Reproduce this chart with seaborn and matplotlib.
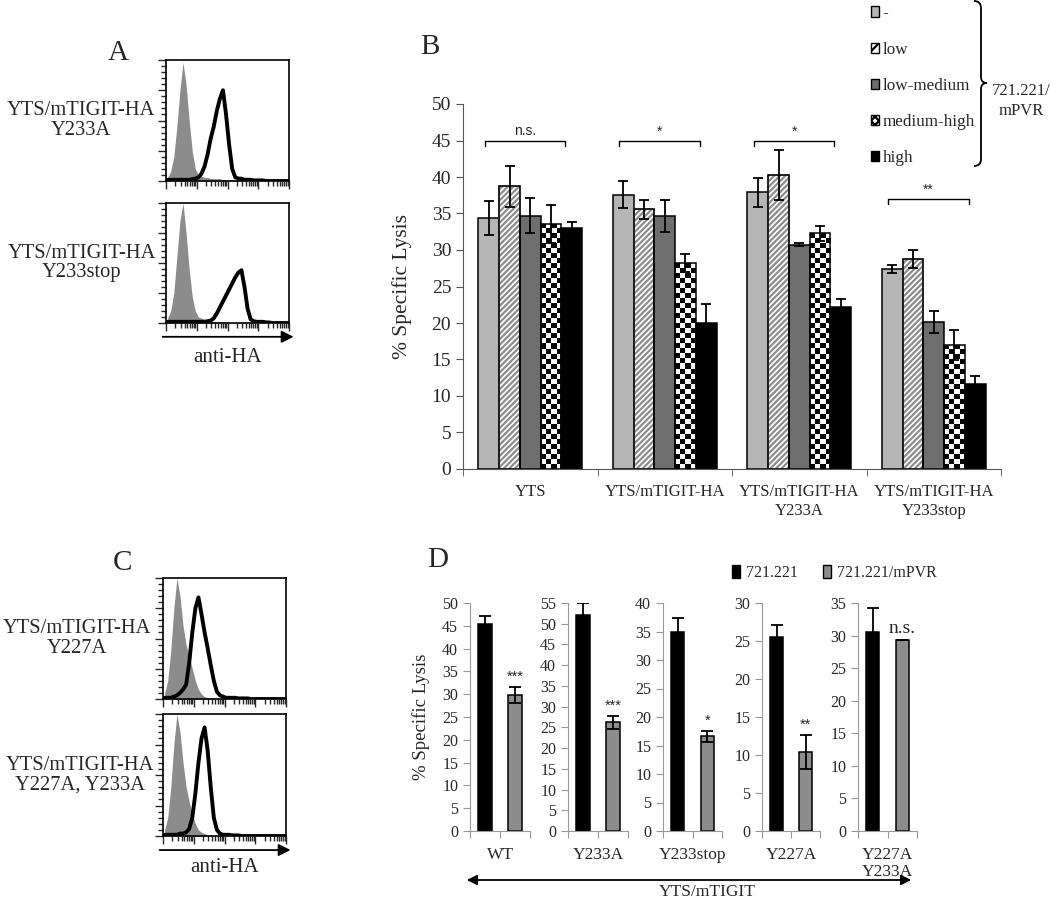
import numpy as np
import pandas as pd
import matplotlib.pyplot as plt
import seaborn as sns
from matplotlib.patches import Patch, Rectangle, PathPatch, FancyArrowPatch
from matplotlib.path import Path
from matplotlib.ticker import MultipleLocator, NullFormatter, LogLocator

# ---- panel A / C : anti-HA staining, counts per 0.1 log-decade bin (log10 0..4)
a1_gray = [3, 8, 20, 45, 75, 98, 80, 50, 25, 10, 5, 4, 3, 3, 2, 2, 2, 2, 1, 1, 1, 1, 0.5, 0.5]
a1_black = [1, 1, 1, 1, 1, 1, 1, 1, 1.5, 2, 3, 6, 12, 22, 35, 45, 58, 68, 75, 55, 30, 10, 3, 2,
            2, 1, 1, 1, 0.5, 0.5, 0.5, 0.5]
a2_gray = [4, 10, 25, 55, 85, 100, 75, 45, 22, 10, 5, 4, 3, 2, 2, 1, 1, 1, 1, 0.5]
a2_black = [1, 1, 1, 1, 1, 1, 1, 1, 1, 1, 1, 1, 1, 1.5, 2, 4, 8, 13, 18, 23, 28, 33, 38, 42,
            44, 30, 12, 3, 1.5, 1, 1, 1, 0.5, 0.5]
c1_gray = [5, 15, 40, 75, 100, 85, 60, 45, 35, 25, 15, 8, 4, 2, 1, 1, 0.5, 0.5]
c1_black = [1, 1, 1, 2, 3, 5, 8, 12, 30, 55, 75, 84, 70, 55, 42, 28, 15, 6, 3, 2, 1, 1, 1, 1,
            0.5, 0.5, 0.5, 0.5]
c2_gray = [5, 15, 40, 75, 100, 85, 60, 40, 28, 18, 10, 5, 3, 2, 1, 1, 0.5, 0.5]
c2_black = [1, 1, 1, 1, 1, 2, 2, 3, 6, 15, 35, 60, 80, 89, 70, 40, 15, 5, 2, 1, 1, 1, 0.5, 0.5, 0.5]
a_labels = ["YTS/mTIGIT-HA\nY233A", "YTS/mTIGIT-HA\nY233stop"]
c_labels = ["YTS/mTIGIT-HA\nY227A", "YTS/mTIGIT-HA\nY227A, Y233A"]

# ---- panel B
b_groups = ["YTS", "YTS/mTIGIT-HA", "YTS/mTIGIT-HA\nY233A", "YTS/mTIGIT-HA\nY233stop"]
b_levels = ["-", "low", "low-medium", "medium-high", "high"]
b_none = [34.4, 37.6, 37.9, 27.4]
b_low = [38.7, 35.6, 40.3, 28.8]
b_lowmed = [34.7, 34.6, 30.7, 20.1]
b_medhigh = [33.6, 28.2, 32.3, 17.0]
b_high = [33.0, 20.0, 22.2, 11.6]
b_none_err = [2.3, 1.9, 2.0, 0.5]
b_low_err = [2.8, 1.3, 3.4, 1.2]
b_lowmed_err = [2.4, 2.2, 0.2, 1.5]
b_medhigh_err = [2.6, 1.2, 1.0, 2.1]
b_high_err = [0.9, 2.6, 1.1, 1.2]
b_sig = ["n.s.", "*", "*", "**"]
b_sig_y = [45, 45, 45, 37]

# ---- panel D
d_groups = ["WT", "Y233A", "Y233stop", "Y227A", "Y227A\nY233A"]
d_targets = ["721.221", "721.221/mPVR"]
d_ctrl = [45.4, 52.0, 35.0, 25.5, 30.6]
d_ctrl_err = [1.7, 2.9, 2.3, 1.6, 3.6]
d_pvr = [29.8, 26.2, 16.6, 10.4, 29.3]
d_pvr_err = [1.7, 1.5, 0.9, 2.2, 0.0]
d_ymax = [50, 55, 40, 30, 35]
d_sig = ["***", "***", "*", "**", "n.s."]

W, H = 1050, 902
GRAY = "#8c8c8c"


def rect(x0, y0, x1, y1):
    return [x0 / W, 1 - y1 / H, (x1 - x0) / W, (y1 - y0) / H]


def fpos(x, y):
    return (x / W, 1 - y / H)


def pad40(v):
    return np.pad(np.asarray(v, float), (0, 40 - len(v)))


sns.set_style("ticks")
plt.rcParams["font.family"] = ["Liberation Serif", "DejaVu Serif"]
plt.rcParams["hatch.linewidth"] = 1.6

fig = plt.figure(figsize=(W / 100, H / 100), dpi=100)
centers = np.arange(40) * 0.1 + 0.05


def flow(box, gray, black, label, label_x):
    ax = fig.add_axes(rect(*box))
    sns.histplot(x=10 ** centers, weights=pad40(gray), bins=40, binrange=(0, 4), log_scale=True,
                 element="poly", fill=True, color=GRAY, alpha=1, linewidth=0, ax=ax)
    sns.histplot(x=10 ** centers, weights=pad40(black), bins=40, binrange=(0, 4), log_scale=True,
                 element="poly", fill=False, color="black", linewidth=2.8, ax=ax)
    ax.set_xlim(1, 1e4)
    ax.set_ylim(0, 100)
    ax.xaxis.set_major_locator(LogLocator(base=10, numticks=10))
    ax.xaxis.set_minor_locator(LogLocator(base=10, subs=np.arange(2, 10), numticks=10))
    ax.xaxis.set_minor_formatter(NullFormatter())
    ax.yaxis.set_major_locator(MultipleLocator(25))
    ax.yaxis.set_minor_locator(MultipleLocator(5))
    ax.tick_params(which="both", direction="out", labelleft=False, labelbottom=False, width=1)
    ax.tick_params(which="major", length=6)
    ax.tick_params(which="minor", length=3.5)
    for s in ax.spines.values():
        s.set_linewidth(1.2)
        s.set_color("black")
    ax.set_xlabel("")
    ax.set_ylabel(label, rotation=0, fontsize=14.8, ha="center", va="center", linespacing=1.05)
    ax.yaxis.set_label_coords((label_x - box[0]) / (box[2] - box[0]), 0.5)
    return ax


flow((166, 60, 289, 181), a1_gray, a1_black, a_labels[0], 81)
ax_a2 = flow((166, 203, 289, 323), a2_gray, a2_black, a_labels[1], 82)
flow((163, 578, 286, 699), c1_gray, c1_black, c_labels[0], 77)
ax_c2 = flow((163, 714, 286, 836), c2_gray, c2_black, c_labels[1], 80)

for ax, ytxt in [(ax_a2, -0.29), (ax_c2, -0.26)]:
    ax.annotate("", xy=(1.06, -0.115), xytext=(-0.05, -0.115), xycoords="axes fraction",
                arrowprops=dict(arrowstyle="-|>", color="black", lw=1.3, mutation_scale=18),
                annotation_clip=False)
    ax.text(0.5, ytxt, "anti-HA", transform=ax.transAxes, ha="center", va="center", fontsize=15)

# ---- panel B
series = [b_none, b_low, b_lowmed, b_medhigh, b_high]
errs = [b_none_err, b_low_err, b_lowmed_err, b_medhigh_err, b_high_err]
df_b = pd.DataFrame({
    "group": np.tile(b_groups, len(b_levels)),
    "level": np.repeat(b_levels, len(b_groups)),
    "lysis": np.concatenate(series),
})
b_colors = ["#b5b5b5", "white", "#6e6e6e", "white", "black"]

ax_b = fig.add_axes(rect(463, 104, 1001, 469))
sns.barplot(data=df_b, x="group", y="lysis", hue="level", order=b_groups, hue_order=b_levels,
            palette=b_colors, edgecolor="black", linewidth=1.1, width=0.77, errorbar=None,
            legend=False, ax=ax_b)
ax_b.set_xlim(-0.5, 3.5)
ax_b.set_ylim(0, 50)
sns.despine(ax=ax_b)
for cont, err, lvl in zip(ax_b.containers, errs, b_levels):
    xs = [p.get_x() + p.get_width() / 2 for p in cont]
    hs = [p.get_height() for p in cont]
    for p in cont:
        p.set_zorder(2)
        if lvl == "low":
            p.set_edgecolor("#8c8c8c")
            p.set_hatch("//////")
            ax_b.add_patch(Rectangle((p.get_x(), 0), p.get_width(), p.get_height(), fill=False,
                                     edgecolor="black", lw=1.1, zorder=2.2))
    ax_b.errorbar(xs, hs, yerr=err, fmt="none", ecolor="black", elinewidth=1.3,
                  capsize=3.5, capthick=1.3, zorder=4)

# checkerboard for medium-high bars
fig.canvas.draw()
for p in ax_b.containers[3]:
    x0, w, h = p.get_x(), p.get_width(), p.get_height()
    q0 = ax_b.transData.transform((x0, 0))
    q1 = ax_b.transData.transform((x0 + w, h))
    nc = max(1, int(round((q1[0] - q0[0]) / 5)))
    nr = max(1, int(round((q1[1] - q0[1]) / 5)))
    board = np.indices((nr, nc)).sum(axis=0) % 2
    im = ax_b.imshow(board, cmap="gray", extent=(x0, x0 + w, 0, h), aspect="auto",
                     interpolation="nearest", zorder=1.9)
    im.set_clip_path(p)
    p.set_facecolor("none")
ax_b.set_xlim(-0.5, 3.5)
ax_b.set_ylim(0, 50)

for i in range(len(b_groups)):
    xa = ax_b.containers[0][i].get_x() + ax_b.containers[0][i].get_width() * 0.3
    xb = ax_b.containers[4][i].get_x() + ax_b.containers[4][i].get_width() * 0.2
    y = b_sig_y[i]
    ax_b.plot([xa, xa, xb, xb], [y - 0.7, y, y, y - 0.7], color="black", lw=1, zorder=4)
    ax_b.text((xa + xb) / 2, y + 0.3, b_sig[i], ha="center", va="bottom", fontsize=10,
              family=["Liberation Sans", "DejaVu Sans"])

ax_b.set_xticks(range(len(b_groups)), labels=b_groups)
ax_b.set_xticks([-0.5, 0.5, 1.5, 2.5, 3.5], minor=True)
ax_b.tick_params(axis="x", which="major", length=0, pad=11, labelsize=12)
ax_b.tick_params(axis="x", which="minor", length=5, direction="out", color="#555555")
ax_b.yaxis.set_major_locator(MultipleLocator(5))
ax_b.tick_params(axis="y", direction="out", length=5, labelsize=14, color="#555555")
for s in ax_b.spines.values():
    s.set_color("#555555")
ax_b.set_xlabel("")
ax_b.set_ylabel("% Specific Lysis", fontsize=15.5)
ax_b.yaxis.set_label_coords((412 - 463) / 538, 0.5)

b_handles = [
    Patch(facecolor="#b5b5b5", edgecolor="black"),
    Patch(facecolor="white", edgecolor="black", hatch="///"),
    Patch(facecolor="#6e6e6e", edgecolor="black"),
    Patch(facecolor="white", edgecolor="black", hatch="xxxx"),
    Patch(facecolor="black", edgecolor="black"),
]
fig.legend(b_handles, b_levels, loc="upper left", bbox_to_anchor=fpos(862, -3), frameon=False,
           borderpad=0, handlelength=0.5, handleheight=0.55, handletextpad=0.2,
           labelspacing=1.18, fontsize=12.3)

bx = [(974, 1), (981, 1), (981, 8), (981, 77), (981, 83), (987, 83),
      (981, 83), (981, 89), (981, 159), (981, 166), (974, 166)]
codes = [Path.MOVETO, Path.CURVE3, Path.CURVE3, Path.LINETO, Path.CURVE3, Path.CURVE3,
         Path.CURVE3, Path.CURVE3, Path.LINETO, Path.CURVE3, Path.CURVE3]
fig.add_artist(PathPatch(Path([fpos(*p) for p in bx], codes), transform=fig.transFigure,
                         fill=False, lw=1.3, edgecolor="black"))
fig.text(*fpos(1021, 101), "721.221/\nmPVR", ha="center", va="center", fontsize=12,
         linespacing=1.35)

# ---- panel D
d_x = [(470, 530), (568, 628), (663, 722), (762, 820), (858, 917)]
for i, g in enumerate(d_groups):
    ax = fig.add_axes(rect(d_x[i][0], 603, d_x[i][1], 831))
    sns.barplot(x=d_targets, y=[d_ctrl[i], d_pvr[i]], hue=d_targets, palette=["black", GRAY],
                edgecolor="black", linewidth=1.1, width=0.45, errorbar=None, legend=False, ax=ax)
    bars = [c[0] for c in ax.containers]
    xs = [p.get_x() + p.get_width() / 2 for p in bars]
    ax.errorbar(xs, [d_ctrl[i], d_pvr[i]], yerr=[d_ctrl_err[i], d_pvr_err[i]], fmt="none",
                ecolor="black", elinewidth=1.3, capsize=4, capthick=1.3, zorder=4)
    top = d_pvr[i] + d_pvr_err[i] + d_ymax[i] * 0.015
    if d_sig[i] == "n.s.":
        ax.text(xs[1], top, d_sig[i], ha="center", va="bottom", fontsize=14)
    else:
        ax.text(xs[1], top, d_sig[i], ha="center", va="bottom", fontsize=10.5,
                family=["Liberation Sans", "DejaVu Sans"])
    ax.set_xlim(-0.5, 1.5)
    ax.set_ylim(0, d_ymax[i])
    sns.despine(ax=ax)
    ax.yaxis.set_major_locator(MultipleLocator(5))
    ax.set_xticks([-0.5, 0.5, 1.5], labels=[])
    ax.tick_params(direction="out", length=5, labelsize=11.5, color="#999999")
    for s in ax.spines.values():
        s.set_color("#999999")
    ax.set_xlabel(g, fontsize=12.5, labelpad=3, linespacing=1.1)
    ax.set_ylabel("")
    if i == 0:
        ax.set_ylabel("% Specific Lysis", fontsize=13.5)
        ax.yaxis.set_label_coords((430 - 470) / 60, 0.5)

fig.legend([Patch(facecolor="black", edgecolor="black"), Patch(facecolor=GRAY, edgecolor="black")],
           d_targets, loc="center left", bbox_to_anchor=fpos(724, 573), frameon=False, ncol=2,
           borderpad=0, handlelength=0.5, handleheight=0.8, handletextpad=0.35, columnspacing=1.6,
           fontsize=11.5)

fig.add_artist(FancyArrowPatch(fpos(464, 880), fpos(914, 880), transform=fig.transFigure,
                               arrowstyle="<|-|>", mutation_scale=15, color="black", lw=1.3))
fig.text(*fpos(707, 892), "YTS/mTIGIT", ha="center", va="center", fontsize=12.5)

# panel letters
for letter, (x, y) in zip("ABCD", [(118, 53), (430, 47), (123, 563), (438, 560)]):
    fig.text(*fpos(x, y), letter, ha="center", va="center", fontsize=21)

fig.savefig("out.png", dpi=100)
